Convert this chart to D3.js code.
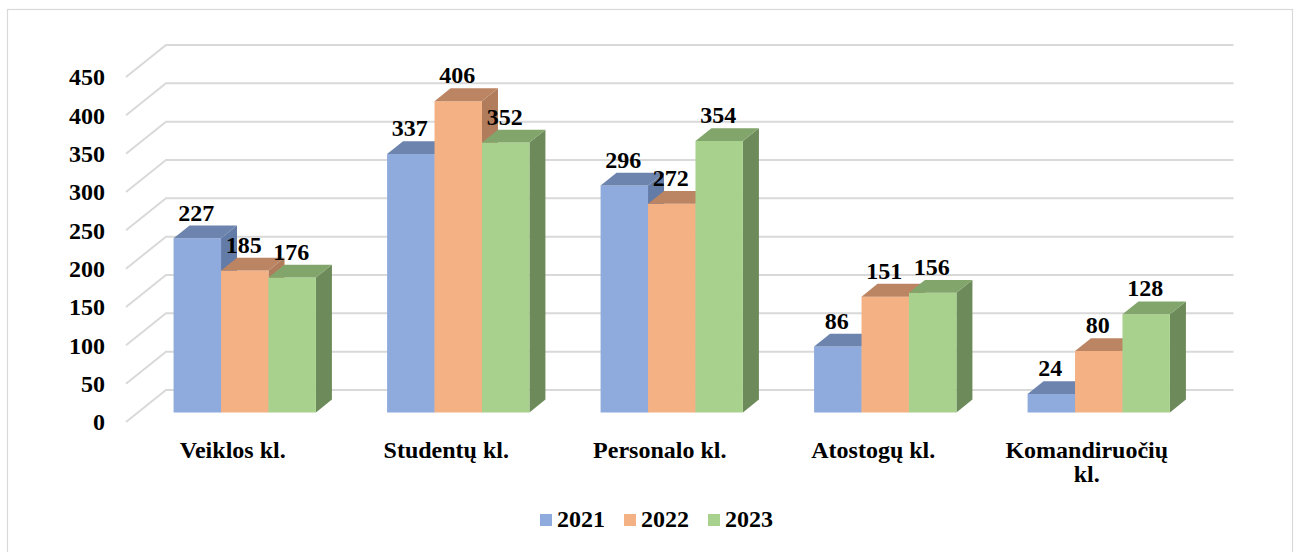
<!DOCTYPE html>
<html>
<head>
<meta charset="utf-8">
<script src="https://cdn.jsdelivr.net/npm/d3@7"></script>
<style>
  html, body { margin: 0; padding: 0; background: #fff; }
  svg { display: block; }
</style>
</head>
<body>
<svg id="chart" width="1299" height="552"></svg>
<script>
// ---- data ----
const categories = ["Veiklos kl.", "Studentų kl.", "Personalo kl.", "Atostogų kl.", "Komandiruočių kl."];
const seriesNames = ["2021", "2022", "2023"];
const values2021 = [227, 337, 296, 86, 24];
const values2022 = [185, 406, 272, 151, 80];
const values2023 = [176, 352, 354, 156, 128];
const yTicks = [0, 50, 100, 150, 200, 250, 300, 350, 400, 450];

const seriesValues = [values2021, values2022, values2023];
const colors = [
  { front: "#8faadc", top: "#6d84ae", side: "#627ba7" },
  { front: "#f4b183", top: "#bb8463", side: "#b17c5b" },
  { front: "#a9d18e", top: "#82a56b", side: "#6d8b5a" }
];
const FONT = "'Liberation Serif', 'Times New Roman', Tinos, 'DejaVu Serif', serif";

const svg = d3.select("#chart")
  .attr("font-family", FONT)
  .attr("font-weight", "bold");

// frame
svg.append("rect")
  .attr("x", 7.5).attr("y", 9.5).attr("width", 1285).attr("height", 560)
  .attr("fill", "#fff").attr("stroke", "#d9d9d9").attr("stroke-width", 1.2);

// ---- 3D layout ----
const originX = 126, originY = 422;   // front-left floor corner
const depthDX = 40, depthDY = 32;     // full depth offset
const plotW = 1067.5;

const y = d3.scaleLinear().domain([0, 450]).range([0, 345]);
const x0 = d3.scaleBand().domain(categories).range([0, plotW]).padding(0);
const x1 = d3.scaleBand().domain(seriesNames)
  .range([x0.bandwidth() / 6, x0.bandwidth() * 5 / 6]).padding(0);

function P(x, h, z) {
  return [originX + x + z * depthDX, originY - h - z * depthDY];
}

// ---- gridlines (side wall + back wall) ----
const grid = svg.append("g").attr("stroke", "#d9d9d9").attr("stroke-width", 2).attr("fill", "none");
yTicks.forEach(t => {
  const a = P(0, y(t), 0), b = P(0, y(t), 1), c = P(plotW, y(t), 1);
  grid.append("path").attr("d", d3.line()([a, b, c]));
});

function txt(g) {
  return g.append("text").attr("font-family", FONT).attr("font-weight", "bold")
    .attr("font-size", 24).attr("fill", "#000");
}

// ---- y tick labels ----
const yAxisG = svg.append("g");
yTicks.forEach(t => {
  txt(yAxisG)
    .attr("x", 105)
    .attr("y", originY - y(t))
    .attr("dy", "0.35em")
    .attr("text-anchor", "end")
    .text(t);
});

// ---- bars ----
const z0 = 0.3, z1 = 0.7;
const barsG = svg.append("g");
const labelsG = svg.append("g");
categories.forEach((cat, ci) => {
  seriesNames.forEach((s, si) => {
    const v = seriesValues[si][ci];
    const xl = x0(cat) + x1(s), xr = xl + x1.bandwidth();
    const h = y(v);
    const col = colors[si];
    const poly = pts => barsG.append("polygon").attr("points", pts.map(p => p.join(",")).join(" "));
    poly([P(xr, 0, z0), P(xr, 0, z1), P(xr, h, z1), P(xr, h, z0)]).attr("fill", col.side);
    poly([P(xl, 0, z0), P(xr, 0, z0), P(xr, h, z0), P(xl, h, z0)]).attr("fill", col.front);
    poly([P(xl, h, z0), P(xr, h, z0), P(xr, h, z1), P(xl, h, z1)]).attr("fill", col.top);
    const fp = P((xl + xr) / 2, h, z0);
    const bp = P((xl + xr) / 2, h, z1);
    txt(labelsG)
      .attr("x", fp[0] - 1)
      .attr("y", bp[1] - 5)
      .attr("text-anchor", "middle")
      .text(v);
  });
});

// ---- category labels ----
const catG = svg.append("g");
categories.forEach(cat => {
  const cx = originX + x0(cat) + x0.bandwidth() / 2;
  const t = txt(catG)
    .attr("x", cx).attr("y", 458)
    .attr("text-anchor", "middle")
    .text(cat);
  if (t.node().getComputedTextLength() > 170) {
    const words = cat.split(" ");
    const last = words.pop();
    t.text(null);
    t.append("tspan").attr("x", cx).attr("dy", 0).text(words.join(" "));
    t.append("tspan").attr("x", cx).attr("dy", 24).text(last);
  }
});

// ---- legend ----
const legend = svg.append("g");
let lx = 540;
seriesNames.forEach((s, si) => {
  legend.append("rect").attr("x", lx).attr("y", 514).attr("width", 12).attr("height", 12)
    .attr("fill", colors[si].front);
  const t = txt(legend).attr("x", lx + 17).attr("y", 527).text(s);
  lx += 17 + t.node().getComputedTextLength() + 19;
});
</script>
</body>
</html>
